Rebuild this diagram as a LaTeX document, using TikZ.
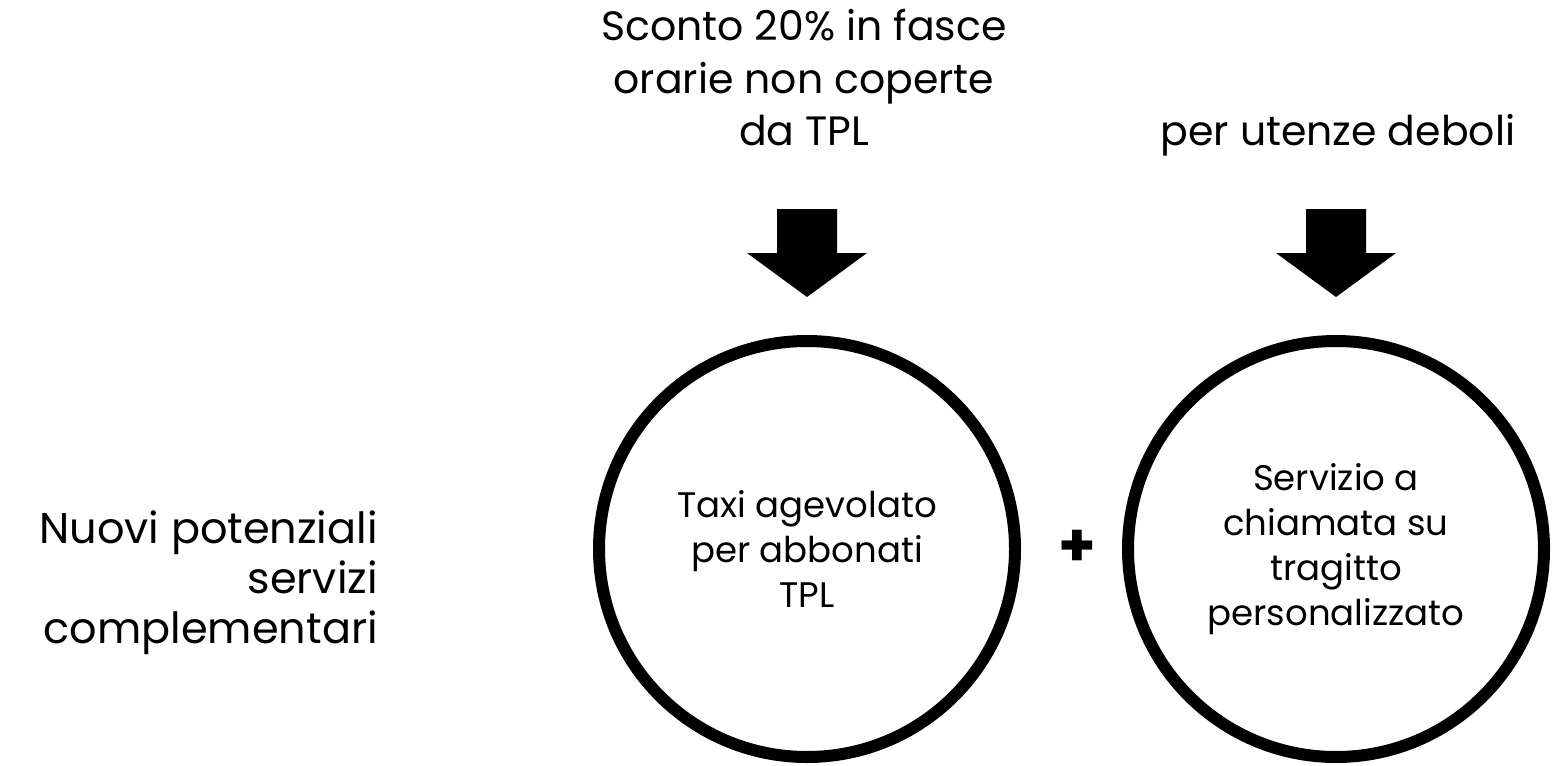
\documentclass[tikz,border=0pt]{standalone}
\usepackage{fontspec}
\setmainfont{Poppins}
\usetikzlibrary{positioning}
\tikzset{
  toplabel/.style={align=center, inner sep=0pt, font=\fontsize{41}{52.5}\selectfont},
  sidelabel/.style={align=right, inner sep=0pt, font=\fontsize{43}{50}\selectfont},
  ring/.style={circle, draw=black, line width=12pt, minimum size=416pt, inner sep=0pt, align=center, font=\fontsize{35.5}{45}\selectfont},
  pics/bigdown/.style={code={
    \fill[black] (-30,0) -- (30,0) -- (30,44) -- (60,44) -- (0,88) -- (-60,44) -- (-30,44) -- cycle;
  }}
}
\begin{document}
\begin{tikzpicture}[x=1pt,y=-1pt]
  \useasboundingbox (0,0) rectangle (1554,765);
  % labels on top
  \node[toplabel] (sconto) at (804,78) {Sconto 20\% in fasce\\orarie non coperte\\da TPL};
  \node[toplabel, anchor=base] (deboli) at (1338,145) {per utenze deboli};
  % the two services
  \node[ring] (taxi) at (807,549) {Taxi agevolato\\per abbonati\\TPL};
  \node[ring] (chiamata) at (1336,549) {Servizio a\\chiamata su\\tragitto\\personalizzato};
  \node[font=\bfseries\fontsize{60}{60}\selectfont] (plus) at (1077,548) {+};
  % title on the left
  \node[sidelabel, anchor=east] (nuovi) at (378,583) {Nuovi potenziali\\servizi\\complementari};
  % block arrows
  \pic at (taxi |- 0,209) {bigdown};
  \pic at (chiamata |- 0,209) {bigdown};
\end{tikzpicture}
\end{document}
